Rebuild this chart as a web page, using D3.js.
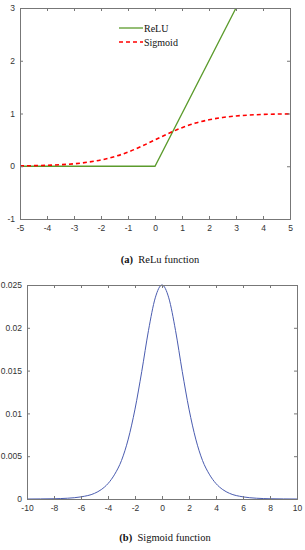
<!DOCTYPE html>
<html>
<head>
<meta charset="utf-8">
<script src="https://cdn.jsdelivr.net/npm/d3@7"></script>
<style>
  body { margin: 0; background: #fff; }
  .tick text { font-family: "Liberation Sans", Arial, sans-serif; font-size: 8.5px; fill: #333; }
  .cap { font-family: "Liberation Serif", serif; font-size: 10.5px; fill: #111; }
  .leg { font-family: "Liberation Serif", serif; font-size: 10px; fill: #111; }
</style>
</head>
<body>
<div id="chart"></div>
<script>
// top panel (a)
const reluX = [-5, 0, 5];
const reluY = [0, 0, 5];
const sigX = [-5, -4.5, -4, -3.5, -3, -2.5, -2, -1.5, -1, -0.5, 0, 0.5, 1, 1.5, 2, 2.5, 3, 3.5, 4, 4.5, 5];
const sigY = [0.007, 0.011, 0.018, 0.029, 0.047, 0.076, 0.119, 0.182, 0.269, 0.378, 0.5, 0.622, 0.731, 0.818, 0.881, 0.924, 0.953, 0.971, 0.982, 0.989, 0.993];
const topXTicks = [-5, -4, -3, -2, -1, 0, 1, 2, 3, 4, 5];
const topYTicks = [-1, 0, 1, 2, 3];
const legendNames = ["ReLU", "Sigmoid"];

// bottom panel (b)
const bX = [-10, -9, -8, -7, -6, -5, -4.5, -4, -3.5, -3, -2.5, -2, -1.5, -1, -0.5, 0, 0.5, 1, 1.5, 2, 2.5, 3, 3.5, 4, 4.5, 5, 6, 7, 8, 9, 10];
const bY = [0, 0.00001, 0.00003, 0.00009, 0.00025, 0.00066, 0.0011, 0.0018, 0.0029, 0.0045, 0.0070, 0.0105, 0.0149, 0.0197, 0.0235, 0.025,
            0.0235, 0.0197, 0.0149, 0.0105, 0.0070, 0.0045, 0.0029, 0.0018, 0.0011, 0.00066, 0.00025, 0.00009, 0.00003, 0.00001, 0];
const botXTicks = [-10, -8, -6, -4, -2, 0, 2, 4, 6, 8, 10];
const botYTicks = [0, 0.005, 0.01, 0.015, 0.02, 0.025];

const captions = [["(a)", "ReLu function"], ["(b)", "Sigmoid function"]];

const svg = d3.select("#chart").append("svg")
  .attr("width", 305)
  .attr("height", 550);

const plain = d => String(d); // hyphen minus like matlab, not d3's unicode minus

function drawBox(g, x, y, xt, yt) {
  const w = x.range()[1] - x.range()[0];
  const h = y.range()[0] - y.range()[1];
  const tl = 3;
  g.append("g")
    .attr("transform", "translate(0," + h + ")")
    .call(d3.axisBottom(x).tickValues(xt).tickSize(-tl).tickPadding(6).tickFormat(plain));
  g.append("g")
    .call(d3.axisLeft(y).tickValues(yt).tickSize(-tl).tickPadding(5).tickFormat(plain));
  g.append("g")
    .call(d3.axisTop(x).tickValues(xt).tickSize(-tl).tickFormat(""));
  g.append("g")
    .attr("transform", "translate(" + w + ",0)")
    .call(d3.axisRight(y).tickValues(yt).tickSize(-tl).tickFormat(""));
  g.selectAll(".domain").attr("stroke", "#777");
  g.selectAll(".tick line").attr("stroke", "#777");
}

// ----- panel a -----
const ga = svg.append("g").attr("transform", "translate(20,8)");
const xa = d3.scaleLinear().domain([-5, 5]).range([0, 270]);
const ya = d3.scaleLinear().domain([-1, 3]).range([211, 0]);

ga.append("clipPath").attr("id", "clipA")
  .append("rect").attr("width", 270).attr("height", 211);

const lineA = d3.line().x(d => xa(d[0])).y(d => ya(d[1]));
const lineS = d3.line().curve(d3.curveMonotoneX).x(d => xa(d[0])).y(d => ya(d[1]));

ga.append("path")
  .datum(reluX.map((v, i) => [v, reluY[i]]))
  .attr("clip-path", "url(#clipA)")
  .attr("fill", "none")
  .attr("stroke", "#5b9b2c")
  .attr("stroke-width", 1.3)
  .attr("d", lineA);

ga.append("path")
  .datum(sigX.map((v, i) => [v, sigY[i]]))
  .attr("clip-path", "url(#clipA)")
  .attr("fill", "none")
  .attr("stroke", "#ff0000")
  .attr("stroke-width", 1.6)
  .attr("stroke-dasharray", "4,3")
  .attr("d", lineS);

drawBox(ga, xa, ya, topXTicks, topYTicks);

// legend
const leg = ga.append("g").attr("transform", "translate(99,20)");
legendNames.forEach((n, i) => {
  const row = leg.append("g").attr("transform", "translate(0," + (i * 14) + ")");
  row.append("line")
    .attr("x1", 0).attr("x2", 24)
    .attr("stroke", i === 0 ? "#5b9b2c" : "#ff0000")
    .attr("stroke-width", i === 0 ? 1.3 : 1.6)
    .attr("stroke-dasharray", i === 0 ? null : "4,3");
  row.append("text").attr("class", "leg")
    .attr("x", 25).attr("y", 3.5).text(n);
});

// ----- panel b -----
const gb = svg.append("g").attr("transform", "translate(27,285)");
const xb = d3.scaleLinear().domain([-10, 10]).range([0, 270]);
const yb = d3.scaleLinear().domain([0, 0.025]).range([214, 0]);

gb.append("path")
  .datum(bX.map((v, i) => [v, bY[i]]))
  .attr("fill", "none")
  .attr("stroke", "#4a5cb0")
  .attr("stroke-width", 1)
  .attr("d", d3.line().curve(d3.curveMonotoneX).x(d => xb(d[0])).y(d => yb(d[1])));

drawBox(gb, xb, yb, botXTicks, botYTicks);

// captions
[[160, 263], [165, 541]].forEach((p, i) => {
  const t = svg.append("text").attr("class", "cap")
    .attr("x", p[0]).attr("y", p[1]).attr("text-anchor", "middle");
  t.append("tspan").attr("font-weight", "bold").text(captions[i][0]);
  t.append("tspan").text("\u2002" + captions[i][1]);
});
</script>
</body>
</html>
